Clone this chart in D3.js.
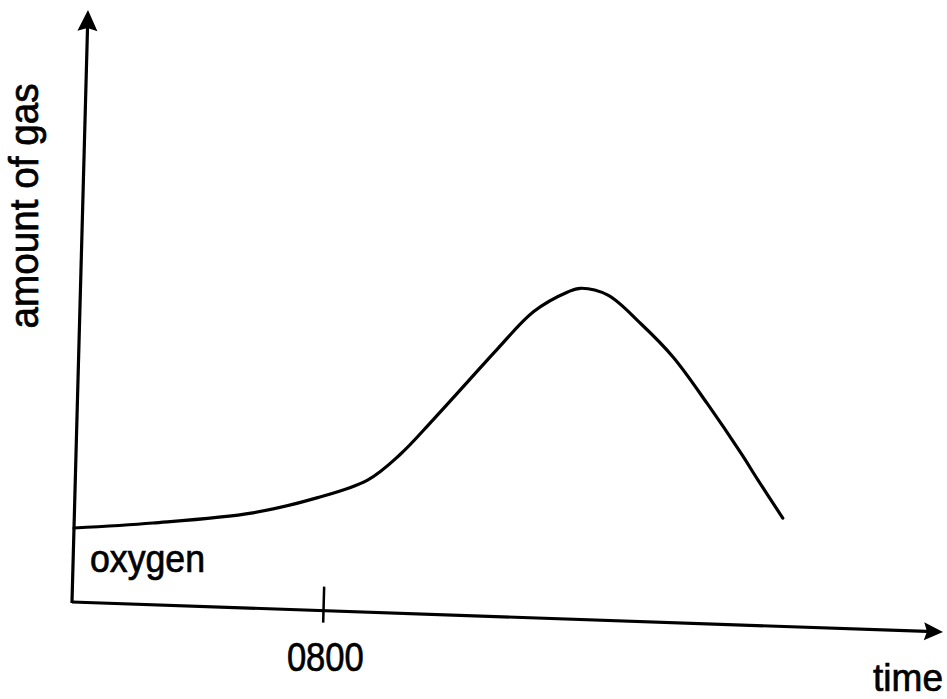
<!DOCTYPE html>
<html>
<head>
<meta charset="utf-8">
<script src="https://cdn.jsdelivr.net/npm/d3@7"></script>
<style>
  html, body { margin: 0; padding: 0; background: #fff; }
  svg { display: block; }
  text { font-family: "Liberation Sans", Arial, Helvetica, sans-serif; fill: #000; }
</style>
</head>
<body>
<svg id="chart" width="947" height="699"></svg>
<script>
// Oxygen in the air around a plant through the day (arbitrary units).
const hours  = [5.00, 5.94, 7.13, 7.89, 8.49, 8.87, 9.25, 9.65, 10.00, 10.42, 10.82,
                10.97, 11.30, 11.70, 12.10, 12.52, 12.94, 13.15, 13.46];
const oxygen = [12.5, 13.8, 16.1, 19.0, 22.3, 26.8, 32.8, 39.4, 45.2, 51.7, 55.2,
                55.9, 54.9, 50.3, 44.8, 37.2, 29.0, 24.6, 18.3];
const timeDomain   = [5, 15.41];
const amountDomain = [0, 100];
const tickValues = [8];
const tickLabels = ["0800"];
const seriesLabel = "oxygen";
const xTitle = "time";
const yTitle = "amount of gas";

// The hand-drawn frame is slightly sheared: the time axis drops to the right,
// the amount axis leans right as it rises.
const origin = { x: 72, y: 602 };
const shearX = 30 / 871;   // vertical drop per unit along the time axis
const shearY = -16 / 592;  // horizontal lean per unit along the amount axis
const frame = (u, v) => [origin.x + u + shearY * v, origin.y + shearX * u + v];

const x = d3.scaleLinear().domain(timeDomain).range([0, 871]);
const y = d3.scaleLinear().domain(amountDomain).range([0, -592]);

const svg = d3.select("#chart");
const plot = svg.append("g")
  .attr("transform", `matrix(1,${shearX},${shearY},1,${origin.x},${origin.y})`);

const ink = "#000";
const lw = 3.2;

// time axis with arrowhead
const xEnd = x(timeDomain[1]);
plot.append("line")
  .attr("x1", x(timeDomain[0])).attr("y1", 0)
  .attr("x2", xEnd - 16).attr("y2", 0)
  .attr("stroke", ink).attr("stroke-width", lw);
plot.append("path")
  .attr("d", `M${xEnd},0 L${xEnd - 19},-9 L${xEnd - 16},0 L${xEnd - 19},9 Z`)
  .attr("fill", ink);

// amount axis with arrowhead
const yEnd = y(amountDomain[1]);
plot.append("line")
  .attr("x1", 0).attr("y1", y(amountDomain[0]) + 1)
  .attr("x2", 0).attr("y2", yEnd + 16)
  .attr("stroke", ink).attr("stroke-width", lw);
plot.append("path")
  .attr("d", `M0,${yEnd} L-10,${yEnd + 21} L0,${yEnd + 18} L10,${yEnd + 21} Z`)
  .attr("fill", ink);

// tick at 0800, crossing the axis
const axis = d3.axisBottom(x).tickValues(tickValues).tickFormat("").tickSizeOuter(0);
const axisG = plot.append("g").call(axis);
axisG.select(".domain").remove();
axisG.selectAll(".tick line")
  .attr("y1", -24).attr("y2", 12)
  .attr("stroke", ink).attr("stroke-width", 2.5);

// oxygen curve
const line = d3.line()
  .x((d, i) => x(hours[i]))
  .y(d => y(d))
  .curve(d3.curveCatmullRom.alpha(0.5));
plot.append("path")
  .datum(oxygen)
  .attr("d", line)
  .attr("fill", "none")
  .attr("stroke", ink)
  .attr("stroke-width", lw)
  .attr("stroke-linejoin", "round")
  .attr("stroke-linecap", "round");

// text is placed upright, positioned through the sheared frame
const textStyle = sel => sel.attr("stroke", ink).attr("stroke-width", 0.7)
  .attr("lengthAdjust", "spacingAndGlyphs");

tickValues.forEach((t, i) => {
  const [px, py] = frame(x(t), 60);
  svg.append("text")
    .attr("x", px + 4).attr("y", py)
    .attr("text-anchor", "middle")
    .attr("font-size", 41)
    .attr("textLength", 77)
    .call(textStyle)
    .text(tickLabels[i]);
});

{
  const [px, py] = frame(x(hours[0]), y(oxygen[0]));
  svg.append("text")
    .attr("x", px + 16).attr("y", py + 44)
    .attr("font-size", 38)
    .attr("textLength", 115)
    .call(textStyle)
    .text(seriesLabel);
}

{
  const [px, py] = frame(xEnd, 0);
  svg.append("text")
    .attr("x", px - 70).attr("y", py + 59)
    .attr("font-size", 38)
    .attr("textLength", 70)
    .call(textStyle)
    .text(xTitle);
}

{
  svg.append("text")
    .attr("transform", "translate(38,206) rotate(-90)")
    .attr("text-anchor", "middle")
    .attr("font-size", 40)
    .attr("textLength", 245)
    .call(textStyle)
    .text(yTitle);
}
</script>
</body>
</html>
